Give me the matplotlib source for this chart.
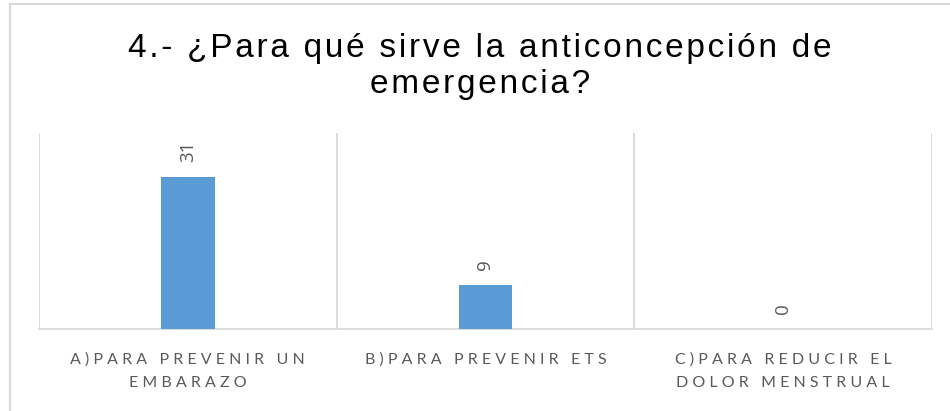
import matplotlib

matplotlib.use("Agg")
import matplotlib.pyplot as plt
from matplotlib.lines import Line2D

# counts per answer
categories = [
    ["A)PARA PREVENIR UN", "EMBARAZO"],
    ["B)PARA PREVENIR ETS"],
    ["C)PARA REDUCIR EL", "DOLOR MENSTRUAL"],
]
values = [31, 9, 0]
title_lines = ["4.- ¿Para qué sirve la anticoncepción de", "emergencia?"]

BAR = "#5B9BD5"
TXT = "#595959"
GRID = "#D9D9D9"
HAIR = "\u200a"


def spaced(s: str, gap: str = " ", word_gap: str = "   ") -> str:
    """Fake letter-spacing by putting a small gap between every glyph."""
    return word_gap.join(gap.join(w) for w in s.split(" "))


plt.rcParams["font.family"] = ["Liberation Sans", "DejaVu Sans"]

fig = plt.figure(figsize=(9.5, 4.11), dpi=100)
ax = fig.add_axes([39 / 950, 82 / 411, 893 / 950, 196 / 411])

x = list(range(len(values)))
ax.bar(x, values, width=0.18, color=BAR, zorder=3)
ax.set_xlim(-0.5, len(values) - 0.5)
ax.set_ylim(0, 40)

for xi, v in zip(x, values):
    ax.annotate(str(v), (xi, v), xytext=(0, 11), textcoords="offset points",
                rotation=90, ha="center", va="bottom", color=TXT, fontsize=13.5,
                family=["Open Sans", "DejaVu Sans"])

# category separators
ax.set_xticks([i - 0.5 for i in range(len(values) + 1)], minor=True)
ax.grid(axis="x", which="minor", color=GRID, lw=1.3, zorder=0)
ax.tick_params(axis="x", which="both", length=0, pad=17)
ax.set_xticks(x, ["\n".join(spaced(l) for l in c) for c in categories],
              color=TXT, fontsize=11.5, linespacing=1.8, va="top",
              family=["Lato", "DejaVu Sans"])
ax.set_yticks([])
for side in ("top", "left", "right"):
    ax.spines[side].set_visible(False)
ax.spines["bottom"].set_color(GRID)
ax.spines["bottom"].set_linewidth(1.3)

title = "\n".join(spaced(l, gap=HAIR, word_gap=HAIR + " " + HAIR) for l in title_lines)
fig.text(480 / 950, 1 - 33 / 411, title, ha="center", va="top",
         fontsize=24, color="#000000", linespacing=1.2)

# chart frame (left and top edges only are in view)
fig.add_artist(Line2D([10 / 950, 10 / 950], [0, 1 - 4 / 411], color=GRID, lw=1.5,
                      transform=fig.transFigure))
fig.add_artist(Line2D([10 / 950, 1], [1 - 4 / 411, 1 - 4 / 411], color=GRID, lw=1.5,
                      transform=fig.transFigure))

fig.savefig("out.png", dpi=100)
